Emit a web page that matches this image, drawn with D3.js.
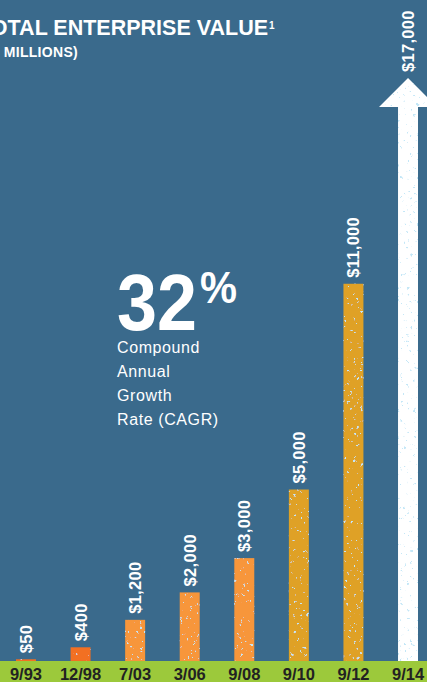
<!DOCTYPE html>
<html><head><meta charset="utf-8">
<script src="https://cdn.jsdelivr.net/npm/d3@7"></script>
<style>
html,body{margin:0;padding:0;background:#3a6a8c;overflow:hidden}
svg{display:block}
text{font-family:"Liberation Sans",Arial,Helvetica,sans-serif}
</style></head>
<body>
<svg id="chart" width="427" height="682"></svg>
<script>
const categories = ["9/93","12/98","7/03","3/06","9/08","9/10","9/12","9/14"];
const values = [50,400,1200,2000,3000,5000,11000,17000];
const valueLabels = ["$50","$400","$1,200","$2,000","$3,000","$5,000","$11,000","$17,000"];
const barColors = ["#f26f21","#f26f21","#f7963b","#f7963b","#f7963b","#dfa126","#dfa126","#ffffff"];
const cagrLines = ["Compound","Annual","Growth","Rate (CAGR)"];

const W = 427, H = 682, baseY = 661;
const svg = d3.select("#chart");
const defs = svg.append("defs");
const f = defs.append("filter").attr("id","speck").attr("x",0).attr("y",0).attr("width","100%").attr("height","100%");
f.append("feTurbulence").attr("type","fractalNoise").attr("baseFrequency",0.3).attr("numOctaves",3).attr("seed",7).attr("result","n");
f.append("feColorMatrix").attr("in","n").attr("type","matrix")
  .attr("values","0 0 0 0 0.55  0 0 0 0 0.80  0 0 0 0 0.93  16 0 0 0 -11").attr("result","s");
f.append("feComposite").attr("in","s").attr("in2","SourceAlpha").attr("operator","in").attr("result","sc");
const fm = f.append("feMerge");
fm.append("feMergeNode").attr("in","SourceGraphic");
fm.append("feMergeNode").attr("in","sc");

svg.append("rect").attr("width",W).attr("height",H).attr("fill","#3a6a8c");

const x = d3.scaleBand().domain(categories).range([16,418]).paddingInner(0.634).paddingOuter(0);
const y = d3.scaleLinear().domain([0,17000]).range([baseY,78]);

// green axis band
svg.append("rect").attr("x",0).attr("y",baseY).attr("width",W).attr("height",H-baseY).attr("fill","#9cc93b");

const data = categories.map((c,i)=>({c,v:values[i],label:valueLabels[i],color:barColors[i],last:i===categories.length-1}));

const bw = x.bandwidth();
// normal bars
svg.selectAll("rect.bar").data(data.filter(d=>!d.last)).join("rect")
  .attr("class","bar")
  .attr("x",d=>x(d.c)).attr("width",bw)
  .attr("y",d=>y(d.v)).attr("height",d=>baseY-y(d.v))
  .attr("fill",d=>d.color)
  .attr("filter","url(#speck)");

// arrow for last
data.filter(d=>d.last).forEach(d=>{
  const cx = x(d.c)+bw/2, tip = y(d.v), headH = 29, headW = 29;
  const p = d3.path();
  p.moveTo(x(d.c), baseY);
  p.lineTo(x(d.c), tip+headH);
  p.lineTo(cx-headW, tip+headH);
  p.lineTo(cx, tip);
  p.lineTo(cx+headW, tip+headH);
  p.lineTo(x(d.c)+bw, tip+headH);
  p.lineTo(x(d.c)+bw, baseY);
  p.closePath();
  svg.append("path").attr("d",p.toString()).attr("fill",d.color).attr("filter","url(#speck)");
});

// value labels
svg.selectAll("text.val").data(data).join("text")
  .attr("class","val")
  .attr("transform",d=>`translate(${x(d.c)+bw/2},${y(d.v)-6}) rotate(-90)`)
  .attr("dy","0.36em")
  .attr("fill","#fff").attr("font-weight","bold").attr("font-size",16.5)
  .attr("letter-spacing",0.3)
  .text(d=>d.label);

// x axis labels
const xa = d3.axisBottom(x).tickSize(0).tickPadding(0);
const g = svg.append("g").attr("transform",`translate(0,${baseY})`).call(xa);
g.select(".domain").remove();
g.selectAll("text").attr("y",19).attr("dy",0)
  .attr("fill","#222").attr("font-weight","bold").attr("font-size",16.5)
  .attr("font-family","'Liberation Sans',Arial,sans-serif");

// title
svg.append("text").attr("x",268).attr("y",35).attr("text-anchor","end")
  .attr("fill","#fff").attr("font-weight","bold").attr("font-size",21.5)
  .text("TOTAL ENTERPRISE VALUE");
svg.append("text").attr("x",269).attr("y",29)
  .attr("fill","#fff").attr("font-weight","bold").attr("font-size",10)
  .text("1");
svg.append("text").attr("x",78).attr("y",57).attr("text-anchor","end")
  .attr("fill","#fff").attr("font-weight","bold").attr("font-size",14)
  .attr("letter-spacing",0.3)
  .text("(IN MILLIONS)");

// CAGR
svg.append("text").attr("x",117).attr("y",330)
  .attr("fill","#fff").attr("font-weight","bold").attr("font-size",79)
  .attr("textLength",80).attr("lengthAdjust","spacingAndGlyphs")
  .text("32");
svg.append("text").attr("x",200).attr("y",303)
  .attr("fill","#fff").attr("font-weight","bold").attr("font-size",45)
  .attr("textLength",37).attr("lengthAdjust","spacingAndGlyphs")
  .text("%");
svg.selectAll("text.cagr").data(cagrLines).join("text")
  .attr("class","cagr")
  .attr("x",117).attr("y",(d,i)=>353+i*24)
  .attr("fill","#fff").attr("font-size",16).attr("letter-spacing",0.6)
  .text(d=>d);
</script>
</body></html>
